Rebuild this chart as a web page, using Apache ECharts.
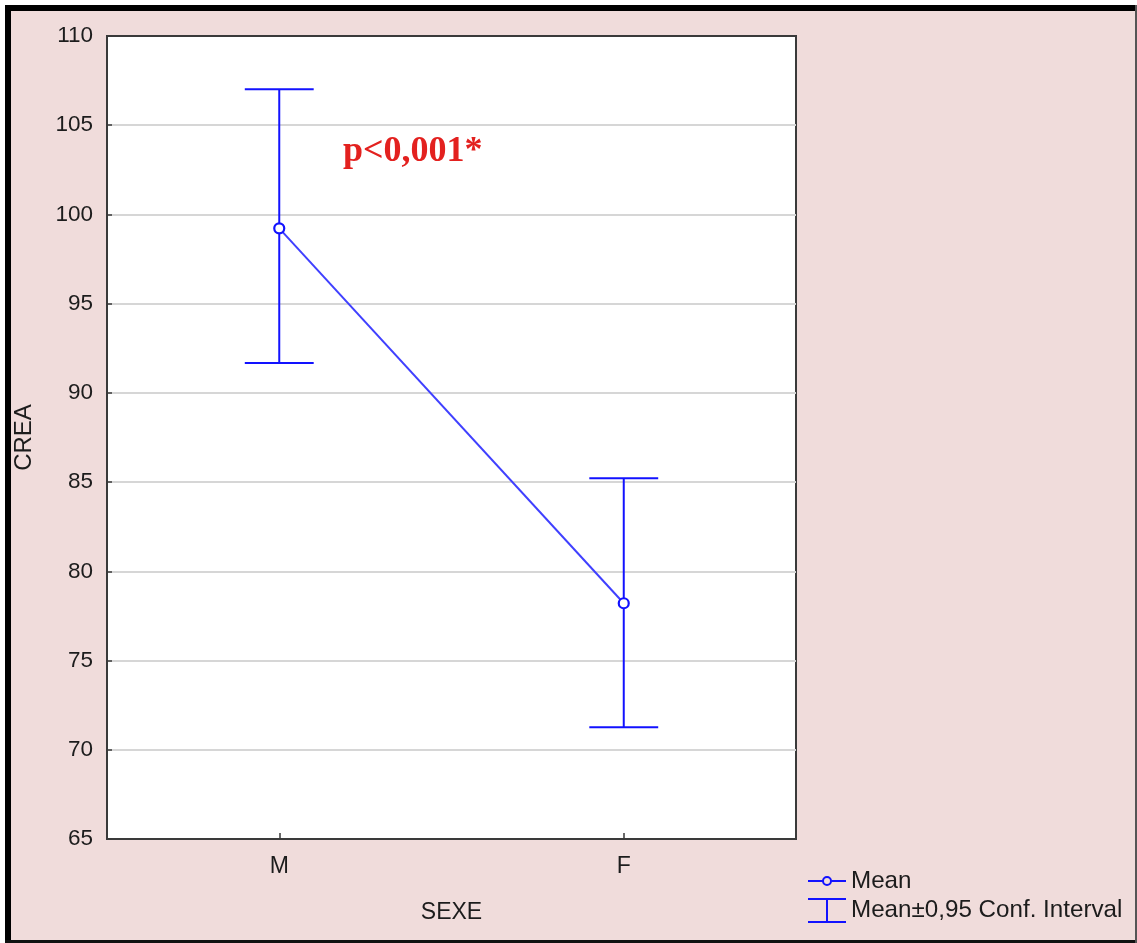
<!DOCTYPE html>
<html>
<head>
<meta charset="utf-8">
<script src="https://cdn.jsdelivr.net/npm/echarts@6/dist/echarts.min.js"></script>
<style>
  html, body { margin: 0; padding: 0; background: #ffffff; }
  #chart { width: 1137px; height: 943px; }
</style>
</head>
<body>
<div id="chart"></div>
<script>
// ---- data ----
const categories = ['M', 'F'];
const means = [99.22, 78.21];
const ciLow = [91.67, 71.26];
const ciHigh = [107.01, 85.21];
const yMin = 65, yMax = 110, yStep = 5;
const legendNames = ['Mean', 'Mean\u00B10,95 Conf. Interval'];
const annotation = 'p<0,001*';

// ---- styling ----
const FONT = '"Liberation Sans", Arial, sans-serif';
const TXT = '#1c1c1c';
const BG = '#f0dcdb';
const BAR_BLUE = '#1212ff';
const LINE_BLUE = '#4040ff';

const ciData = categories.map((c, i) => [i, ciLow[i], ciHigh[i]]);

// split-line colours: hide at the frame edges (min and max)
const nLines = Math.round((yMax - yMin) / yStep) + 1;
const splitColors = [];
for (let i = 0; i < nLines; i++) splitColors.push(i === 0 || i === nLines - 1 ? 'rgba(0,0,0,0)' : '#d6d6d6');

const meanIcon = 'path://M0,11.5H14.2V13.5H0Z M23.8,11.5H38V13.5H23.8Z ' +
  'M14,12.5A5,5 0 1 1 24,12.5A5,5 0 1 1 14,12.5Z ' +
  'M16,12.5A3,3 0 1 0 22,12.5A3,3 0 1 0 16,12.5Z';
const ciIcon = 'path://M0,0H38V2H20V23H38V25H0V23H18V2H0Z';

const chart = echarts.init(document.getElementById('chart'), null, { renderer: 'canvas' });

chart.setOption({
  animation: false,
  backgroundColor: BG,
  textStyle: { fontFamily: FONT },
  grid: {
    left: 107, top: 36, right: 341, bottom: 104,
    show: true, backgroundColor: '#ffffff', borderColor: '#3a3a3a', borderWidth: 2
  },
  xAxis: {
    type: 'category',
    data: categories,
    boundaryGap: true,
    name: 'SEXE',
    nameLocation: 'middle',
    nameGap: 62,
    nameTextStyle: { fontSize: 23, color: TXT, fontFamily: FONT },
    axisLine: { show: true, lineStyle: { color: '#3a3a3a', width: 2 } },
    axisTick: { show: true, inside: true, alignWithLabel: true, length: 6, lineStyle: { color: '#3a3a3a', width: 1.5 } },
    axisLabel: { fontSize: 23, color: TXT, margin: 16, fontFamily: FONT },
    splitLine: { show: false }
  },
  yAxis: {
    type: 'value',
    min: yMin, max: yMax, interval: yStep,
    name: 'CREA',
    nameLocation: 'middle',
    nameGap: 71,
    nameTextStyle: { fontSize: 24, color: TXT, fontFamily: FONT },
    axisLine: { show: true, lineStyle: { color: '#3a3a3a', width: 2 } },
    axisTick: { show: true, inside: true, length: 5, lineStyle: { color: '#3a3a3a', width: 1.5 } },
    axisLabel: { fontSize: 22.5, color: TXT, margin: 14, fontFamily: FONT },
    splitLine: { show: true, lineStyle: { color: splitColors, width: 2 } }
  },
  legend: {
    orient: 'vertical',
    left: 808, top: 869,
    itemWidth: 38, itemHeight: 25, itemGap: 5, itemTextGap: 11,
    padding: 0,
    selectedMode: false,
    textStyle: { fontSize: 24.2, color: TXT, fontFamily: FONT },
    data: [
      { name: legendNames[0], icon: meanIcon, itemStyle: { color: BAR_BLUE, borderWidth: 0 } },
      { name: legendNames[1], icon: ciIcon, itemStyle: { color: BAR_BLUE, borderWidth: 0 } }
    ]
  },
  series: [
    {
      name: legendNames[1],
      type: 'custom',
      data: ciData,
      encode: { x: 0, y: [1, 2] },
      z: 2,
      itemStyle: { color: BAR_BLUE },
      renderItem: function (params, api) {
        const x = api.value(0);
        const lo = api.coord([x, api.value(1)]);
        const hi = api.coord([x, api.value(2)]);
        const half = api.size([1, 0])[0] * 0.1;
        const st = { stroke: BAR_BLUE, lineWidth: 2 };
        return {
          type: 'group',
          children: [
            { type: 'line', shape: { x1: lo[0], y1: hi[1], x2: lo[0], y2: lo[1] }, style: st },
            { type: 'line', shape: { x1: lo[0] - half, y1: hi[1], x2: lo[0] + half, y2: hi[1] }, style: st },
            { type: 'line', shape: { x1: lo[0] - half, y1: lo[1], x2: lo[0] + half, y2: lo[1] }, style: st }
          ]
        };
      }
    },
    {
      name: legendNames[0],
      type: 'line',
      data: means,
      z: 3,
      symbol: 'circle',
      symbolSize: 10,
      lineStyle: { color: LINE_BLUE, width: 2 },
      itemStyle: { color: '#ffffff', borderColor: BAR_BLUE, borderWidth: 2.2 }
    }
  ],
  graphic: [
    { type: 'rect', left: 0, top: 0, shape: { width: 5, height: 943 }, style: { fill: '#ffffff' }, z: 100 },
    { type: 'rect', left: 0, top: 0, shape: { width: 1137, height: 5 }, style: { fill: '#ffffff' }, z: 100 },
    { type: 'rect', left: 5, top: 5, shape: { width: 6, height: 938 }, style: { fill: '#000000' }, z: 101 },
    { type: 'rect', left: 5, top: 5, shape: { width: 1132, height: 6 }, style: { fill: '#000000' }, z: 101 },
    { type: 'rect', left: 5, top: 940, shape: { width: 1132, height: 3 }, style: { fill: '#111111' }, z: 101 },
    { type: 'rect', left: 1135, top: 5, shape: { width: 2, height: 938 }, style: { fill: '#555555' }, z: 101 },
    {
      type: 'text', left: 343, top: 134, z: 50,
      style: { text: annotation, font: 'bold 36px "Liberation Serif", "Times New Roman", serif', fill: '#e3211f' }
    }
  ]
});
</script>
</body>
</html>
